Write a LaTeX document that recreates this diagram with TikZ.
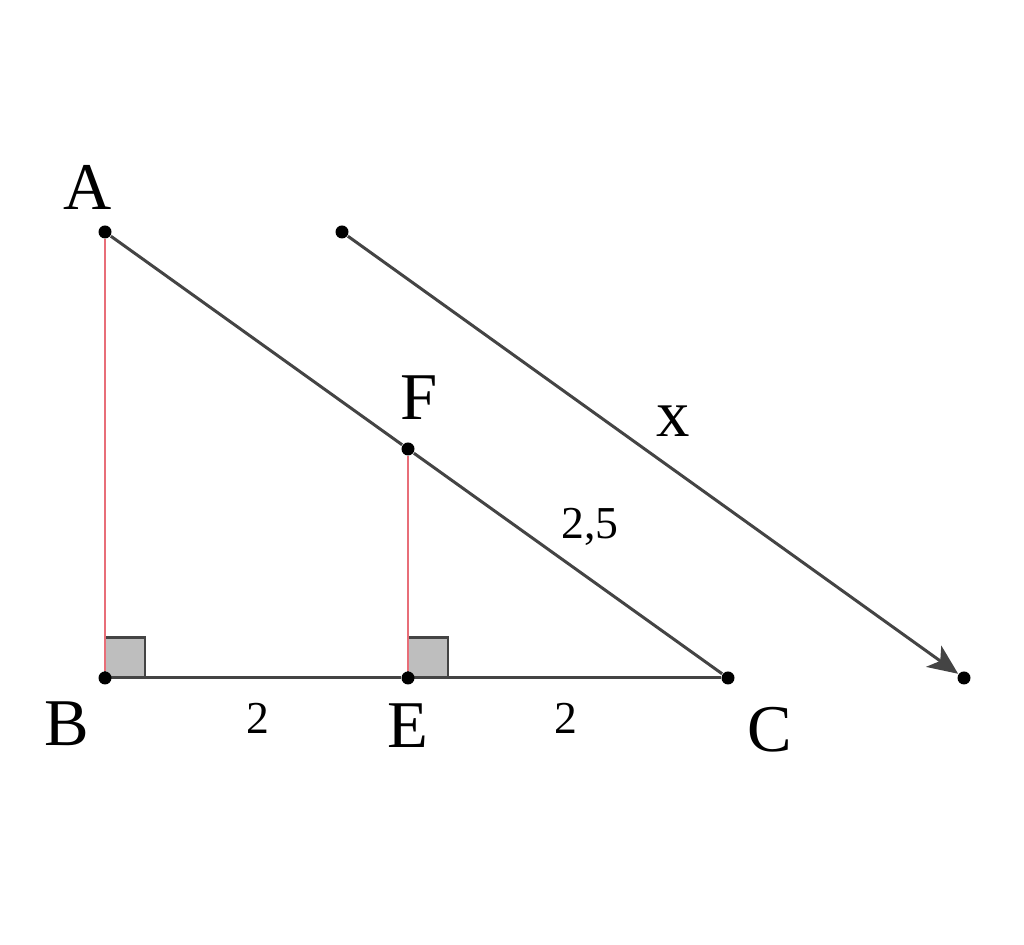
\documentclass[tikz,border=0pt]{standalone}
\usepackage{fontspec}
\setmainfont{Liberation Serif}
\usetikzlibrary{arrows.meta}
\usepackage{xcolor}
\definecolor{ColLine}{RGB}{68,68,68}
\definecolor{ColRed}{RGB}{232,110,120}
\definecolor{ColMark}{RGB}{190,190,190}
\tikzstyle{PointGraph}=[circle,fill=black,inner sep=0pt,minimum size=1.3mm]
\tikzstyle{SideGraph}=[ColLine,line width=0.85pt]
\tikzstyle{HeightGraph}=[ColRed,line width=0.85pt]
\tikzstyle{ArcGraph}=[SideGraph,-{Stealth[length=3mm,width=2.6mm,inset=0.8mm]}]
\tikzstyle{AngleMark}=[draw=ColLine,fill=ColMark,line width=0.85pt]
\tikzstyle{LetterLabel}=[font=\fontsize{19}{21}\selectfont,inner sep=0pt]
\tikzstyle{NumberLabel}=[font=\fontsize{13}{15}\selectfont,inner sep=0pt]

\begin{document}
\begin{tikzpicture}
        \useasboundingbox (0,0) rectangle (10.24,9.45);
        \draw[AngleMark](1.05,2.67)rectangle(1.45,3.07);
        \draw[AngleMark](4.08,2.67)rectangle(4.48,3.07);
        \node[PointGraph](A)at(1.05,7.13){};
        \node[PointGraph](B)at(1.05,2.67){};
        \node[PointGraph](E)at(4.08,2.67){};
        \node[PointGraph](F)at(4.08,4.96){};
        \node[PointGraph](C)at(7.28,2.67){};
        \node[PointGraph](P)at(3.42,7.13){};
        \node[PointGraph](Q)at(9.64,2.67){};
        \draw[HeightGraph](B)--(A);
        \draw[HeightGraph](E)--(F);
        \draw[SideGraph](A)--(F);
        \draw[SideGraph](F)--(C);
        \draw[SideGraph](B)--(E);
        \draw[SideGraph](E)--(C);
        \draw[ArcGraph](P)--(Q);
        \node[LetterLabel](lA)at(0.88,7.58){A};
        \node[LetterLabel](lF)at(4.19,5.47){F};
        \node[LetterLabel](lB)at(0.67,2.21){B};
        \node[LetterLabel](lE)at(4.08,2.19){E};
        \node[LetterLabel](lC)at(7.70,2.15){C};
        \node[LetterLabel](lx)at(6.73,5.24){x};
        \node[NumberLabel](lAC)at(5.90,4.18){2,5};
        \node[NumberLabel](lBE)at(2.58,2.27){2};
        \node[NumberLabel](lEC)at(5.66,2.27){2};
    \end{tikzpicture}
\end{document}
